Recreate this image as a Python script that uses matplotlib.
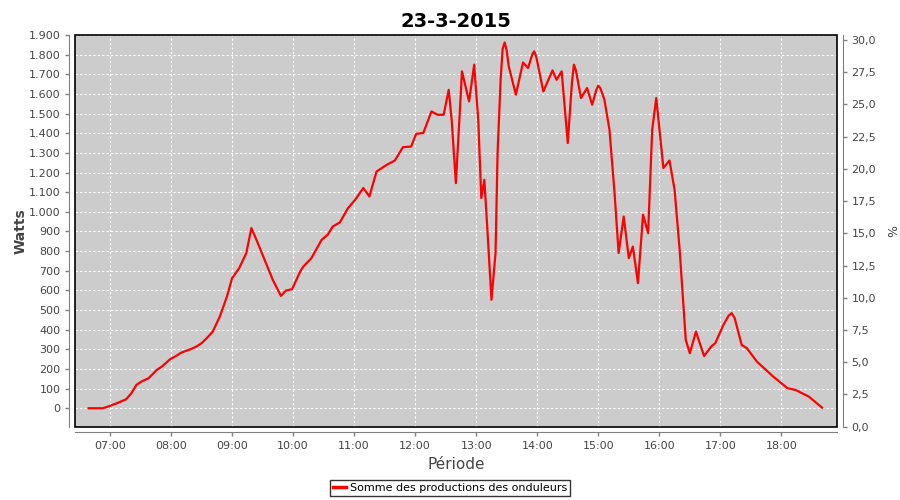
import numpy as np
import pandas as pd
import matplotlib
matplotlib.use('Agg')
import matplotlib.pyplot as plt
import matplotlib.dates as mdates
from matplotlib.ticker import FuncFormatter, MultipleLocator
from matplotlib.patches import Rectangle

plt.rcParams['font.family'] = ['DejaVu Sans']

day = '2015-03-23'

# production (W)
times = ['06:39', '06:53', '07:00', '07:08', '07:16', '07:21', '07:26', '07:31', '07:38', '07:46',
         '07:51', '07:59', '08:05', '08:10', '08:19', '08:25', '08:30', '08:35', '08:41', '08:48',
         '08:55', '09:00', '09:07', '09:14', '09:19', '09:24', '09:34', '09:40', '09:48', '09:53',
         '09:59', '10:07', '10:10', '10:18', '10:28', '10:34', '10:39', '10:46', '10:54', '11:01',
         '11:09', '11:15', '11:22', '11:32', '11:40', '11:48', '11:56', '12:01', '12:08', '12:16',
         '12:22', '12:28', '12:33', '12:36', '12:40', '12:44', '12:46', '12:53', '12:58', '13:02',
         '13:05', '13:08', '13:11', '13:15', '13:19', '13:21', '13:24', '13:26', '13:28', '13:30',
         '13:32', '13:39', '13:46', '13:51', '13:55', '13:57', '13:59', '14:06', '14:15', '14:19',
         '14:24', '14:30', '14:34', '14:36', '14:38', '14:43', '14:49', '14:54', '14:58', '15:00',
         '15:02', '15:06', '15:11', '15:16', '15:20', '15:25', '15:30', '15:34', '15:39', '15:44',
         '15:49', '15:53', '15:57', '16:04', '16:10', '16:15', '16:20', '16:26', '16:30', '16:36',
         '16:44', '16:51', '16:55', '17:03', '17:08', '17:11', '17:14', '17:21', '17:26', '17:36',
         '17:52', '18:06', '18:14', '18:27', '18:40']
watts = [0, 0, 12, 28, 46, 76, 119, 136, 153, 195,
         212, 249, 266, 283, 300, 314, 331, 356, 390, 467,
         569, 662, 713, 790, 917, 857, 730, 654, 572, 599,
         606, 696, 721, 764, 857, 883, 925, 946, 1019, 1061,
         1121, 1078, 1205, 1239, 1261, 1329, 1332, 1397, 1401, 1511,
         1494, 1494, 1621, 1460, 1146, 1520, 1715, 1562, 1749, 1469,
         1070, 1163, 908, 552, 790, 1299, 1672, 1830, 1862, 1820,
         1740, 1596, 1760, 1732, 1800, 1817, 1790, 1613, 1720, 1672,
         1715, 1350, 1650, 1749, 1720, 1579, 1630, 1545, 1620, 1642,
         1630, 1571, 1418, 1095, 790, 976, 764, 823, 637, 985,
         891, 1418, 1579, 1223, 1261, 1112, 806, 348, 280, 390,
         266, 314, 331, 424, 470, 484, 460, 322, 306, 237,
         161, 102, 93, 59, 3]

t = pd.to_datetime([day + ' ' + s for s in times])

fig = plt.figure(figsize=(9, 5), dpi=100)
ax = fig.add_axes([75 / 900, 1 - 426.7 / 500, (837 - 75) / 900, (426.7 - 35) / 500])
ax.set_facecolor('#cccccc')

ax.plot(t, watts, color='#ff0000', lw=1.6, label='Somme des productions des onduleurs', zorder=3)

ax.set_xlim(pd.Timestamp(day + ' 06:25:36'), pd.Timestamp(day + ' 18:54:40'))
ax.set_ylim(-94, 1900)
ax.xaxis.set_major_locator(mdates.HourLocator(byhour=range(7, 19)))
ax.xaxis.set_major_formatter(mdates.DateFormatter('%H:%M'))
ax.yaxis.set_major_locator(MultipleLocator(100))
ax.yaxis.set_major_formatter(FuncFormatter(lambda v, p: f'{int(v):,}'.replace(',', '.')))
ax.grid(True, color='white', ls=(0, (2, 2)), lw=0.8)

ax2 = ax.twinx()
ax2.set_ylim(0, 30.39)
ax2.yaxis.set_major_locator(MultipleLocator(2.5))
ax2.yaxis.set_major_formatter(FuncFormatter(lambda v, p: f'{v:.1f}'.replace('.', ',')))

for a in (ax, ax2):
    for s in a.spines.values():
        s.set_visible(False)
    a.tick_params(colors='#808080', labelcolor='#444444', labelsize=8, length=3, width=1)

ax.spines['left'].set_visible(True)
ax.spines['left'].set_position(('outward', 4))
ax.spines['left'].set_color('#808080')
ax.spines['bottom'].set_visible(True)
ax.spines['bottom'].set_position(('outward', 4))
ax.spines['bottom'].set_color('#808080')
ax2.spines['right'].set_visible(True)
ax2.spines['right'].set_position(('outward', 4))
ax2.spines['right'].set_color('#808080')

ax.add_patch(Rectangle((0, 0), 1, 1, transform=ax.transAxes, fill=False,
                       edgecolor='black', lw=1.2, clip_on=False, zorder=5))

ax.set_ylabel('Watts', fontsize=10, color='#444444', fontweight='bold', labelpad=1)
ax2.set_ylabel('%', fontsize=9, color='#444444', labelpad=8)
ax.set_xlabel('Période', fontsize=11, color='#444444', labelpad=4)
ax.set_title('23-3-2015', fontsize=14, fontweight='bold', pad=6)

leg = fig.legend(loc='center', bbox_to_anchor=(0.5, 1 - 488 / 500), fontsize=8,
                 frameon=True, fancybox=False, handlelength=1.2, handletextpad=0.3,
                 borderpad=0.3, edgecolor='black')
leg.get_frame().set_linewidth(1)
for h in leg.legend_handles:
    h.set_linewidth(2.5)

fig.savefig('out.png', dpi=100)
